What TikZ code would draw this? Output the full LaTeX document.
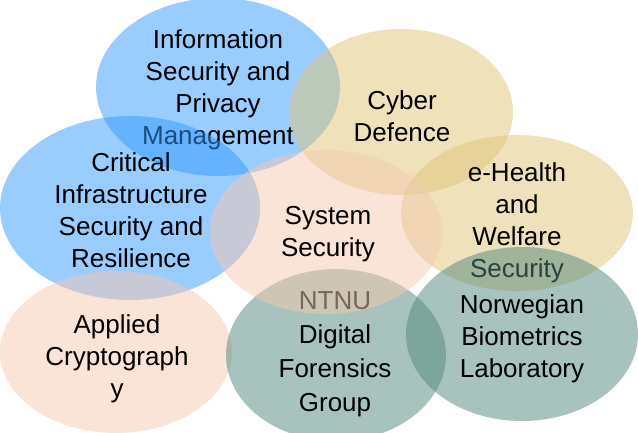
\documentclass[tikz,border=0pt]{standalone}
\usepackage{fontspec}
\setmainfont{Liberation Sans}
\usetikzlibrary{shapes.geometric}
\definecolor{blobblue}{HTML}{3399FF}
\definecolor{blobtan}{HTML}{DFC577}
\definecolor{blobpeach}{HTML}{F5C9AF}
\definecolor{blobteal}{HTML}{51877B}
\begin{document}
\begin{tikzpicture}[x=1pt,y=-1pt]
		\tikzset{blob/.style = {shape=ellipse,draw=none,fill=#1,fill opacity=.5,inner sep=0pt}}
		\tikzset{lbl/.style = {align=center,font=\fontsize{26}{32}\selectfont,text=black}}
		\useasboundingbox (0,0) rectangle (638,432);
		\clip (0,0) rectangle (638,432);
		\node[blob=blobblue,minimum width=244pt,minimum height=178pt] (info) at (218,87) {};
		\node[lbl] (infot) at (218,89.5) {Information\\Security and\\Privacy\\Management};
		\node[blob=blobtan,minimum width=224pt,minimum height=166pt] (cyber) at (401,112) {};
		\node[lbl] (cybert) at (402,116) {Cyber\\Defence};
		\node[blob=blobblue,minimum width=260pt,minimum height=184pt] (crit) at (130,208) {};
		\node[lbl] (critt) at (131,210.5) {Critical\\Infrastructure\\Security and\\Resilience};
		\node[blob=blobtan,minimum width=232pt,minimum height=156pt] (health) at (517,213) {};
		\node[lbl] (healtht) at (517,222.5) {e-Health\\and\\Welfare\\Security};
		\node[blob=blobpeach,minimum width=232pt,minimum height=162pt] (crypto) at (116,352) {};
		\node[lbl] (cryptot) at (117,358.5) {Applied\\Cryptograph\\y};
		\node[blob=blobteal,minimum width=220pt,minimum height=172pt] (forensics) at (336,355) {};
		\node[lbl,font=\fontsize{26}{34}\selectfont] (forensicst) at (335,354.5) {NTNU\\Digital\\Forensics\\Group};
		\node[blob=blobpeach,minimum width=232pt,minimum height=164pt] (system) at (326,232) {};
		\node[lbl] (systemt) at (328,234.5) {System\\Security};
		\node[blob=blobteal,minimum width=232pt,minimum height=174pt] (bio) at (522,334) {};
		\node[lbl] (biot) at (522,339) {Norwegian\\Biometrics\\Laboratory};
	\end{tikzpicture}
\end{document}
